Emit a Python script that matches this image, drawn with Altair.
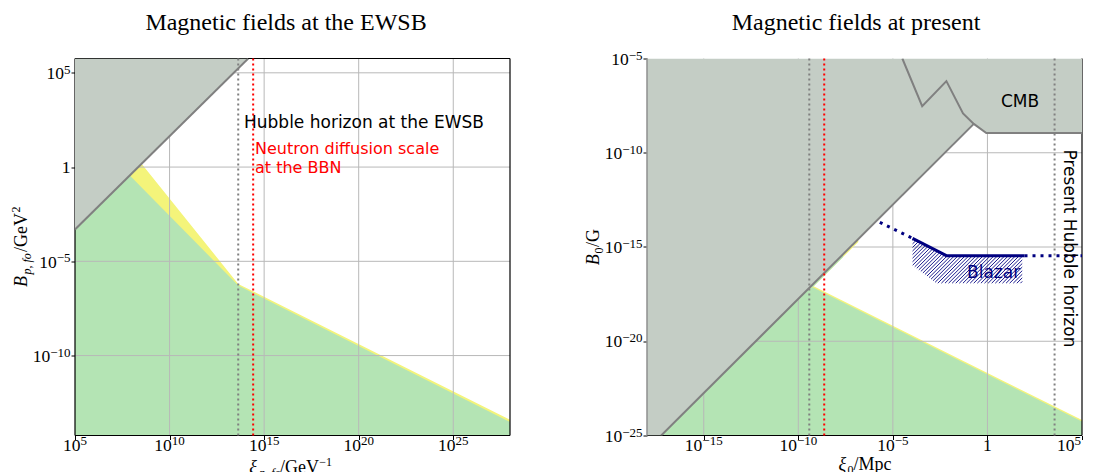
import altair as alt
import numpy as np
import pandas as pd

# ---------------- data (log10 exponents) ----------------
# Left panel: magnetic fields at the EWSB
L_xdom = [5, 28]
L_ydom = [-14.24, 5.76]
L_xticks = [5, 10, 15, 20, 25]
L_yticks = [5, 0, -5, -10]
L_xgrid = [10, 15, 20, 25]
L_ygrid = [5, 0, -5, -10]

L_gray_x = [5, 14.16]
L_gray_y = [-3.31, 5.76]
L_green_x = [5, 7.9, 13.63, 28]
L_green_y = [-3.31, -0.45, -6.28, -13.52]
L_yellow_x = [5, 8.52, 13.63, 28]
L_yellow_y = [-3.31, 0.17, -6.2, -13.41]
L_hubble_x = 13.63
L_neutron_x = 14.42

# Right panel: magnetic fields at present
R_xdom = [-18, 5]
R_ydom = [-25, -5]
R_xticks = [-15, -10, -5, 0, 5]
R_yticks = [-5, -10, -15, -20, -25]
R_xgrid = [-15, -10, -5, 0]
R_ygrid = [-10, -15, -20]

R_gray_x = [-18, -17.25, -0.72, -0.06, 5]
R_gray_y = [-25, -25, -8.47, -8.95, -8.95]
R_cmb_x = [-4.5, -3.45, -2.17, -1.29, -0.72, -0.06, 5]
R_cmb_y = [-5, -7.53, -6.2, -7.91, -8.47, -8.95, -8.95]
R_diag_x = [-17.25, -0.72]
R_diag_y = [-25, -8.47]
R_yellow_x = [-17.25, -9.39, -9.24, 5]
R_yellow_y = [-25, -17.14, -17.06, -24.18]
R_green_x = [-17.25, -9.39, -9.24, 5]
R_green_y = [-25, -17.14, -17.14, -24.26]
R_ystripe_x = [-9.39, -9.24, -6.83]
R_ystripe_lo = [-17.14, -17.14, -14.73]
R_ystripe_hi = [-17.14, -16.99, -14.58]
R_gstripe_x = [-9.39, -9.24, -7.63]
R_gstripe_lo = [-17.14, -17.14, -15.53]
R_gstripe_hi = [-17.14, -16.99, -15.38]
R_hubble_x = -9.42
R_neutron_x = -8.63
R_present_x = 3.55
R_blz_dot1_x = [-5.69, -3.96]
R_blz_dot1_y = [-13.69, -14.54]
R_blz_solid_x = [-3.96, -2.17, 1.96]
R_blz_solid_y = [-14.54, -15.46, -15.46]
R_blz_dot2_x = [1.96, 5]
R_blz_dot2_y = [-15.46, -15.46]
R_blz_poly_x = [-3.96, -2.17, 1.84, 1.84, -2.7, -3.96]
R_blz_poly_y = [-14.54, -15.46, -15.46, -16.92, -16.92, -15.96]

# ---------------- styling ----------------
W, H = 435, 377
SERIF = "Liberation Serif, DejaVu Serif"
SANS = "DejaVu Sans"
GRAY_FILL = "#c4cdc5"
GRAY_LINE = "#808080"
GREEN = "#b4e4b4"
YELLOW = "#f4f47a"
NAVY = "#000080"
GRID = "#b8b8b8"
FS_MAIN = 17.5   # tick label "10"
FS_EXP = 13      # tick label exponent


def p10(v):
    return 10.0 ** np.asarray(v, dtype=float)


def exp_text(e):
    return str(e).replace("-", "\u2212")


def exp_width(e):
    s = str(e)
    return FS_EXP * (0.5 * sum(c.isdigit() for c in s) + 0.564 * s.count("-"))


def make_axis(ticks):
    return alt.Axis(values=[float(v) for v in p10(ticks)], labels=False,
                    grid=False, domain=False, ticks=True, tickSize=4, tickColor="black",
                    tickWidth=1, title=None)


dummy = pd.DataFrame({"d": [0]})


def text_seg(text, x, y, size, italic=False, angle=0, color="black", font=SERIF,
             align="left", baseline="alphabetic"):
    return alt.Chart(dummy).mark_text(
        text=text, align=align, baseline=baseline, font=font, fontSize=size,
        fontStyle="italic" if italic else "normal", angle=angle, color=color
    ).encode(x=alt.value(x), y=alt.value(y))


def spine(x, y, x2=None, y2=None, color="black", width=1.2):
    enc = dict(x=alt.value(x), y=alt.value(y))
    if x2 is not None:
        enc["x2"] = alt.value(x2)
    if y2 is not None:
        enc["y2"] = alt.value(y2)
    return alt.Chart(dummy).mark_rule(color=color, strokeWidth=width).encode(**enc)


def panel(xdom, ydom, xticks, yticks):
    xs = alt.Scale(type="log", domain=[float(v) for v in p10(xdom)], nice=False)
    ys = alt.Scale(type="log", domain=[float(v) for v in p10(ydom)], nice=False)
    X = lambda f="x": alt.X(f"{f}:Q", scale=xs, axis=make_axis(xticks))
    Y = lambda f="y": alt.Y(f"{f}:Q", scale=ys, axis=make_axis(yticks))
    return X, Y


def x_tick_labels(X, ticks, flush_last=False):
    out = []
    base = H + 15.2
    for i, t in enumerate(ticks):
        df = pd.DataFrame({"x": p10([t])})
        if t == 0:
            out.append(alt.Chart(df).mark_text(text="1", align="center", baseline="alphabetic",
                                               font=SERIF, fontSize=FS_MAIN, color="black")
                       .encode(x=X(), y=alt.value(base)))
            continue
        w10 = FS_MAIN
        total = w10 + exp_width(t)
        start = -total / 2
        if flush_last and i == len(ticks) - 1:
            start = -1 - total
        out.append(alt.Chart(df).mark_text(text="10", align="left", baseline="alphabetic",
                                           dx=start, font=SERIF, fontSize=FS_MAIN, color="black")
                   .encode(x=X(), y=alt.value(base)))
        out.append(alt.Chart(df).mark_text(text=exp_text(t), align="left", baseline="alphabetic",
                                           dx=start + w10, font=SERIF, fontSize=FS_EXP, color="black")
                   .encode(x=X(), y=alt.value(base - 5.5)))
    return out


def y_tick_labels(Y, ticks):
    out = []
    right = -4.5
    for t in ticks:
        df = pd.DataFrame({"y": p10([t])})
        if t == 0:
            out.append(alt.Chart(df).mark_text(text="1", align="right", baseline="alphabetic",
                                               dy=6.2, font=SERIF, fontSize=FS_MAIN, color="black")
                       .encode(y=Y(), x=alt.value(right)))
            continue
        out.append(alt.Chart(df).mark_text(text="10", align="right", baseline="alphabetic",
                                           dy=6.2, font=SERIF, fontSize=FS_MAIN, color="black")
                   .encode(y=Y(), x=alt.value(right - exp_width(t))))
        out.append(alt.Chart(df).mark_text(text=exp_text(t), align="right", baseline="alphabetic",
                                           dy=1.0, font=SERIF, fontSize=FS_EXP, color="black")
                   .encode(y=Y(), x=alt.value(right)))
    return out


def area_layer(X, Y, xs, ytop, ybot, color):
    df = pd.DataFrame({"x": p10(xs), "y": p10(ytop), "y2": p10(ybot)})
    return alt.Chart(df).mark_area(color=color, opacity=1, clip=True).encode(
        x=X(), y=Y(), y2="y2:Q")


def line_layer(X, Y, xs, ys, color, width, dash=None):
    df = pd.DataFrame({"x": p10(xs), "y": p10(ys), "i": range(len(xs))})
    kw = dict(color=color, strokeWidth=width, clip=True)
    if dash is not None:
        kw["strokeDash"] = dash
    return alt.Chart(df).mark_line(**kw).encode(x=X(), y=Y(), order="i:Q")


def vline(X, xval, color, dash, width=2):
    df = pd.DataFrame({"x": p10([xval])})
    return alt.Chart(df).mark_rule(color=color, strokeDash=dash, strokeWidth=width).encode(x=X())


def grid_layers(X, Y, xg, yg):
    gx = alt.Chart(pd.DataFrame({"x": p10(xg)})).mark_rule(color=GRID, strokeWidth=1).encode(x=X())
    gy = alt.Chart(pd.DataFrame({"y": p10(yg)})).mark_rule(color=GRID, strokeWidth=1).encode(y=Y())
    return [gx, gy]


def hatch_segments(px, py, step):
    P = np.column_stack([px, py]).astype(float)
    d = P[:, 1] - P[:, 0]
    segs = []
    n = len(P)
    for k in np.arange(d.min() + step / 2, d.max(), step):
        pts = []
        for i in range(n):
            (x1, y1), (x2, y2) = P[i], P[(i + 1) % n]
            den = (y2 - y1) - (x2 - x1)
            if abs(den) < 1e-12:
                continue
            t = (k - (y1 - x1)) / den
            if 0 <= t <= 1:
                pts.append((x1 + t * (x2 - x1), y1 + t * (y2 - y1)))
        if len(pts) >= 2:
            pts.sort()
            segs.append((*pts[0], *pts[-1]))
    return pd.DataFrame(segs, columns=["lx", "ly", "lx2", "ly2"])


def title_text(text, cx):
    return text_seg(text, cx, -28.8, 24, align="center")


# ---------------- left panel ----------------
LX, LY = panel(L_xdom, L_ydom, L_xticks, L_yticks)
left_layers = [
    area_layer(LX, LY, L_yellow_x, L_yellow_y, [L_ydom[0]] * 4, YELLOW),
    area_layer(LX, LY, L_green_x, L_green_y, [L_ydom[0]] * 4, GREEN),
    *grid_layers(LX, LY, L_xgrid, L_ygrid),
    spine(0, 0, x2=W), spine(0, H, x2=W), spine(0, 0, y2=H), spine(W, 0, y2=H),
    area_layer(LX, LY, L_gray_x, L_gray_y, [L_ydom[1]] * 2, GRAY_FILL),
    line_layer(LX, LY, L_gray_x, L_gray_y, GRAY_LINE, 2),
    vline(LX, L_hubble_x, GRAY_LINE, [2, 3]),
    vline(LX, L_neutron_x, "#ff0000", [2, 3]),
    text_seg("Hubble horizon at the EWSB", 169, 69, 17, font=SANS),
    text_seg("Neutron diffusion scale", 180, 95.5, 16, font=SANS, color="#ff0000"),
    text_seg("at the BBN", 180, 114.2, 16, font=SANS, color="#ff0000"),
    title_text("Magnetic fields at the EWSB", 211),
    *x_tick_labels(LX, L_xticks),
    *y_tick_labels(LY, L_yticks),
    # y axis title  B_{p,fo}/GeV^2
    text_seg("B", -48, 228.4, 18, italic=True, angle=270),
    text_seg("p, fo", -44, 216, 12, italic=True, angle=270),
    text_seg("/GeV", -48, 193.4, 18, angle=270),
    text_seg("2", -55, 154, 12, angle=270),
    # x axis title  xi_{p,fo}/GeV^-1
    text_seg("ξ", 174.3, 414.7, 18, italic=True),
    text_seg("p, fo", 184.3, 418.7, 12, italic=True),
    text_seg("/GeV", 205, 414.7, 18),
    text_seg("−1", 244.3, 407.7, 12),
]
left = alt.layer(*left_layers).properties(width=W, height=H)

# ---------------- right panel ----------------
RX, RY = panel(R_xdom, R_ydom, R_xticks, R_yticks)

hatch = hatch_segments(R_blz_poly_x, R_blz_poly_y, 0.19)
hatch_df = pd.DataFrame({"x": p10(hatch.lx), "y": p10(hatch.ly),
                         "x2": p10(hatch.lx2), "y2": p10(hatch.ly2)})

stripe_y = pd.DataFrame({"x": p10(R_ystripe_x), "y": p10(R_ystripe_hi), "y2": p10(R_ystripe_lo)})
stripe_g = pd.DataFrame({"x": p10(R_gstripe_x), "y": p10(R_gstripe_hi), "y2": p10(R_gstripe_lo)})

right_layers = [
    area_layer(RX, RY, R_yellow_x, R_yellow_y, [R_ydom[0]] * 4, YELLOW),
    area_layer(RX, RY, R_green_x, R_green_y, [R_ydom[0]] * 4, GREEN),
    *grid_layers(RX, RY, R_xgrid, R_ygrid),
    spine(0, H, x2=W), spine(W, 0, y2=H),
    area_layer(RX, RY, R_gray_x, R_gray_y, [R_ydom[1]] * 5, GRAY_FILL),
    alt.Chart(stripe_y).mark_area(color=YELLOW, clip=True).encode(x=RX(), y=RY(), y2="y2:Q"),
    alt.Chart(stripe_g).mark_area(color=GREEN, clip=True).encode(x=RX(), y=RY(), y2="y2:Q"),
    spine(0, 0, y2=H, color="#8f8f8f", width=1.5),
    line_layer(RX, RY, R_diag_x, R_diag_y, GRAY_LINE, 2),
    line_layer(RX, RY, R_cmb_x, R_cmb_y, GRAY_LINE, 2),
    alt.Chart(hatch_df).mark_rule(color=NAVY, strokeWidth=0.9).encode(
        x=RX(), y=RY(), x2="x2:Q", y2="y2:Q"),
    line_layer(RX, RY, R_blz_dot1_x, R_blz_dot1_y, NAVY, 3, dash=[3, 5]),
    line_layer(RX, RY, R_blz_solid_x, R_blz_solid_y, NAVY, 3),
    line_layer(RX, RY, R_blz_dot2_x, R_blz_dot2_y, NAVY, 3, dash=[3, 5]),
    vline(RX, R_hubble_x, GRAY_LINE, [2, 3]),
    vline(RX, R_neutron_x, "#ff0000", [2, 3]),
    vline(RX, R_present_x, GRAY_LINE, [2, 3]),
    text_seg("CMB", 354, 48.4, 17, font=SANS),
    text_seg("Blazar", 320, 219.4, 17, font=SANS, color=NAVY),
    text_seg("Present Hubble horizon", 422, 190, 17, font=SANS, angle=90,
             align="center", baseline="middle"),
    title_text("Magnetic fields at present", 209),
    *x_tick_labels(RX, R_xticks, flush_last=True),
    *y_tick_labels(RY, R_yticks),
    # y axis title  B_0/G
    text_seg("B", -48, 206.7, 18, italic=True, angle=270),
    text_seg("0", -44, 195, 12, angle=270),
    text_seg("/G", -48, 188.4, 18, angle=270),
    # x axis title  xi_0/Mpc
    text_seg("ξ", 191.6, 411, 18, italic=True),
    text_seg("0", 200.5, 415, 12),
    text_seg("/Mpc", 206.5, 411, 18),
]
right = alt.layer(*right_layers).properties(width=W, height=H)

chart = alt.hconcat(left, right, spacing=137, bounds="flush").properties(
    padding={"left": 2, "top": 2.5, "right": 2, "bottom": 0}
).configure_view(strokeWidth=0)

chart.save("out.html", embed_options={"renderer": "svg", "actions": False})
